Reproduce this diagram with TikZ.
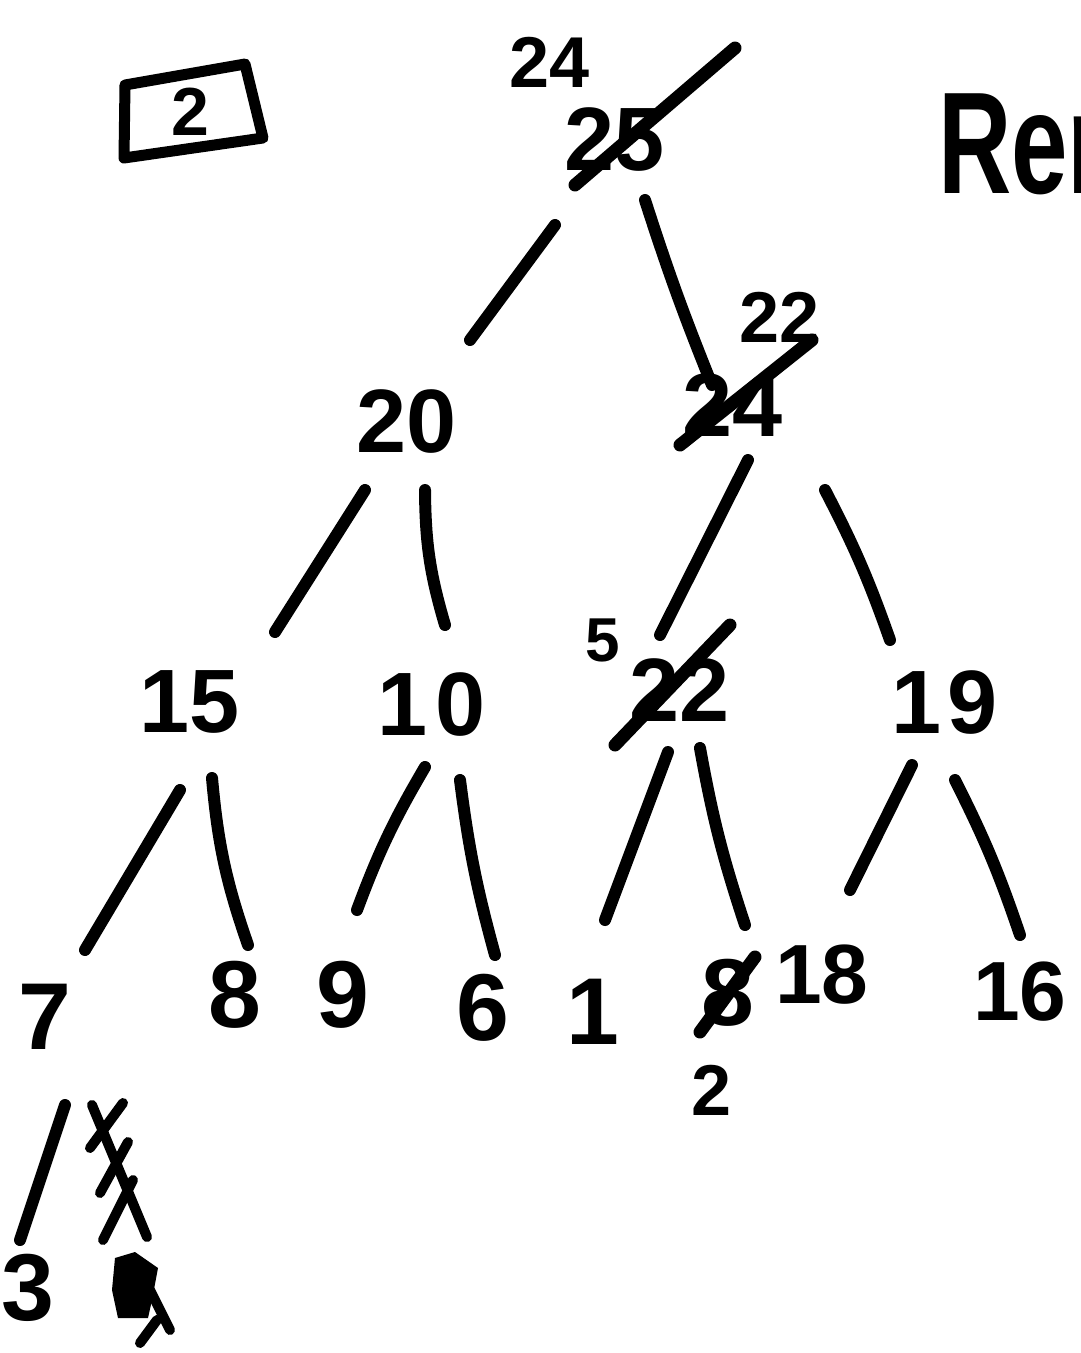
\documentclass[tikz,border=0pt]{standalone}
\usepackage{fontspec}
\setmainfont{Liberation Sans}
\usetikzlibrary{calc}
\tikzset{
  pen/.style={line width=12pt, line cap=round, line join=round, black},
  edge/.style={pen},
  strike/.style={line width=13pt, line cap=round, black},
  num/.style={inner sep=0pt, font=\fontsize{90}{90}\selectfont\bfseries},
  leaf/.style={inner sep=0pt, font=\fontsize{95}{95}\selectfont\bfseries},
  small/.style={inner sep=0pt, font=\fontsize{72}{72}\selectfont\bfseries},
}
\begin{document}
\begin{tikzpicture}[x=1pt,y=-1pt]
\fill[white] (0,0) rectangle (1080,1353);
\useasboundingbox (0,0) rectangle (1080,1353);
% box with 2
\node[inner sep=0pt, font=\fontsize{68}{68}\selectfont\bfseries] (boxtwo) at (190,112) {2};
\draw[line width=11pt, line join=round, line cap=round] (125,85) -- (245,64) -- (263,138) -- (124,158) -- cycle;
% top
\node[small] (n24top) at (550,62) {24};
\node[num] (n25) at (615,140) {25};
\draw[strike] ($(n25)+(-40,45)$) -- ($(n25)+(120,-92)$);
% Rem (cut off at the right edge, as in the reference)
\node[anchor=base west, inner sep=0pt, font=\fontsize{145}{145}\selectfont\bfseries] (rem) at (938,193) {\scalebox{0.7}[1]{Rem}};
% level 1
\node[num] (n20) at (407,422) {20};
\node[small] (n22s) at (780,317) {22};
\node[num] (n24) at (733,405) {24};
\draw[strike] ($(n24)+(-53,40)$) -- ($(n24)+(79,-65)$);
% level 2
\node[num] (n15) at (190,702) {15};
\node[num] (n10) at (432,705) {1\hspace{8pt}0};
\node[inner sep=0pt, font=\fontsize{62}{62}\selectfont\bfseries] (n5) at (603,640) {5};
\node[num] (n22) at (680,690) {22};
\draw[strike] ($(n22)+(-65,55)$) -- ($(n22)+(50,-65)$);
\node[num] (n19) at (945,703) {1\hspace{6pt}9};
% leaves
\node[leaf] (n7) at (45,1017) {7};
\node[leaf] (n8) at (235,995) {8};
\node[leaf] (n9) at (343,995) {9};
\node[leaf] (n6) at (483,1008) {6};
\node[leaf] (n1) at (593,1012) {1};
\node[leaf] (n8b) at (728,993) {8};
\draw[strike] ($(n8b)+(-28,39)$) -- ($(n8b)+(27,-36)$);
\node[small] (n2) at (712,1090) {2};
\node[inner sep=0pt, font=\fontsize{84}{84}\selectfont\bfseries] (n18) at (822,975) {18};
\node[inner sep=0pt, font=\fontsize{84}{84}\selectfont\bfseries] (n16) at (1020,992) {16};
\node[leaf] (n3) at (28,1288) {3};
% edges
\draw[edge] ($(n25)+(-60,85)$) -- ($(n20)+(63,-82)$);
\draw[edge] ($(n25)+(30,60)$) to[bend right=2] ($(n24)+(-21,-20)$);
\draw[edge] ($(n20)+(-42,68)$) -- ($(n15)+(85,-70)$);
\draw[edge] ($(n20)+(18,68)$) to[bend right=8] ($(n10)+(13,-80)$);
\draw[edge] ($(n24)+(15,55)$) -- ($(n22)+(-20,-55)$);
\draw[edge] ($(n24)+(92,85)$) to[bend left=4] ($(n19)+(-55,-63)$);
\draw[edge] ($(n15)+(-10,88)$) -- ($(n7)+(40,-67)$);
\draw[edge] ($(n15)+(22,76)$) to[bend right=7] ($(n8)+(13,-50)$);
\draw[edge] ($(n10)+(-7,62)$) to[bend right=5] ($(n9)+(14,-85)$);
\draw[edge] ($(n10)+(28,75)$) to[bend right=4] ($(n6)+(12,-53)$);
\draw[edge] ($(n22)+(-12,62)$) -- ($(n1)+(12,-92)$);
\draw[edge] ($(n22)+(20,58)$) to[bend right=4] ($(n8b)+(17,-68)$);
\draw[edge] ($(n19)+(-33,62)$) -- ($(n18)+(28,-85)$);
\draw[edge] ($(n19)+(10,77)$) to[bend left=4] ($(n16)+(0,-57)$);
\draw[edge] ($(n7)+(20,88)$) -- ($(n3)+(-8,-48)$);
% scribbled-out digits
\draw[pen, line width=10pt] (92,1105) -- (147,1237);
\draw[pen, line width=10pt] (123,1103) -- (90,1148);
\draw[pen, line width=10pt] (128,1142) -- (100,1193);
\draw[pen, line width=10pt] (133,1180) -- (103,1240);
\fill[black] (115,1258) -- (135,1252) -- (158,1268) -- (152,1300) -- (148,1318) -- (118,1318) -- (112,1290) -- cycle;
\draw[pen, line width=10pt] (150,1290) -- (170,1330);
\draw[pen, line width=10pt] (157,1320) -- (140,1343);
\end{tikzpicture}
\end{document}
